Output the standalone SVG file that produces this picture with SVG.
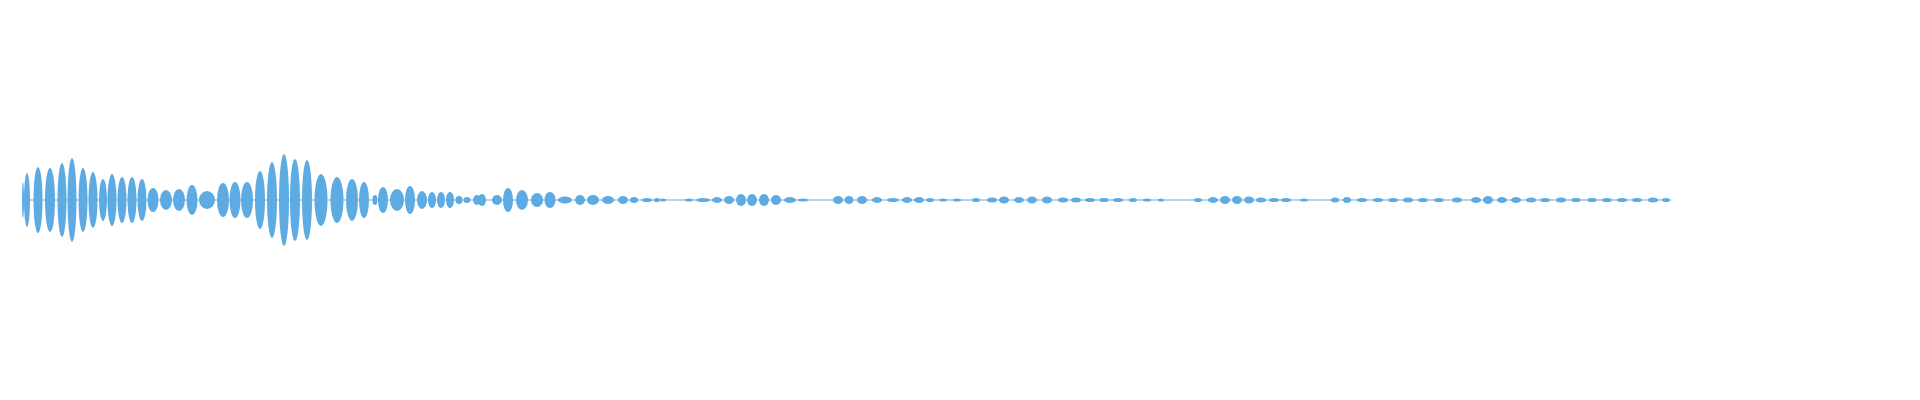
<svg xmlns="http://www.w3.org/2000/svg" width="1920" height="400" viewBox="0 0 1920 400">
<style>ellipse{fill:#5eabe3}line{stroke:#5eabe3}</style>
<rect width="1920" height="400" fill="#fff"/>
<g id="waveform">
<line x1="22" y1="200" x2="1671" y2="200" stroke-width="1"/>
<ellipse cx="23" cy="200" rx="1" ry="18"/>
<ellipse cx="27" cy="200" rx="3" ry="27"/>
<ellipse cx="38" cy="200" rx="4.5" ry="33"/>
<ellipse cx="50" cy="200" rx="5" ry="32"/>
<ellipse cx="62" cy="200" rx="4.5" ry="37"/>
<ellipse cx="72" cy="200" rx="4.5" ry="42"/>
<ellipse cx="83" cy="200" rx="4.5" ry="32"/>
<ellipse cx="93" cy="200" rx="4.5" ry="28"/>
<ellipse cx="103" cy="200" rx="4" ry="21"/>
<ellipse cx="112" cy="200" rx="4.5" ry="26"/>
<ellipse cx="122" cy="200" rx="4.5" ry="23"/>
<ellipse cx="132" cy="200" rx="4.5" ry="23"/>
<ellipse cx="142" cy="200" rx="4.5" ry="21"/>
<ellipse cx="153" cy="200" rx="5.5" ry="12"/>
<ellipse cx="166" cy="200" rx="6" ry="10"/>
<ellipse cx="179" cy="200" rx="6" ry="11"/>
<ellipse cx="192" cy="200" rx="5.5" ry="15"/>
<ellipse cx="207" cy="200" rx="8" ry="9"/>
<ellipse cx="223" cy="200" rx="6" ry="17"/>
<ellipse cx="235" cy="200" rx="5.5" ry="18"/>
<ellipse cx="247" cy="200" rx="6" ry="18"/>
<ellipse cx="260" cy="200" rx="5" ry="29"/>
<ellipse cx="272" cy="200" rx="5" ry="38"/>
<ellipse cx="284" cy="200" rx="5" ry="46"/>
<ellipse cx="295" cy="200" rx="5" ry="41"/>
<ellipse cx="307" cy="200" rx="5" ry="40"/>
<ellipse cx="321" cy="200" rx="6.5" ry="26"/>
<ellipse cx="337" cy="200" rx="6.5" ry="23"/>
<ellipse cx="352" cy="200" rx="6" ry="21"/>
<ellipse cx="364" cy="200" rx="5" ry="18"/>
<ellipse cx="375" cy="200" rx="2.5" ry="5"/>
<ellipse cx="383" cy="200" rx="5" ry="13"/>
<ellipse cx="397" cy="200" rx="7" ry="11"/>
<ellipse cx="410" cy="200" rx="5" ry="14"/>
<ellipse cx="422" cy="200" rx="5" ry="9"/>
<ellipse cx="432" cy="200" rx="4" ry="8"/>
<ellipse cx="441" cy="200" rx="4" ry="8"/>
<ellipse cx="450" cy="200" rx="4" ry="8"/>
<ellipse cx="459" cy="200" rx="3.5" ry="4"/>
<ellipse cx="467" cy="200" rx="3.5" ry="3"/>
<ellipse cx="477" cy="200" rx="4" ry="5"/>
<ellipse cx="482" cy="200" rx="4" ry="6"/>
<ellipse cx="497" cy="200" rx="5" ry="5"/>
<ellipse cx="508" cy="200" rx="5" ry="12"/>
<ellipse cx="522" cy="200" rx="6" ry="10"/>
<ellipse cx="537" cy="200" rx="6" ry="7"/>
<ellipse cx="550" cy="200" rx="5.5" ry="8"/>
<ellipse cx="565" cy="200" rx="7" ry="3.5"/>
<ellipse cx="580" cy="200" rx="5" ry="5"/>
<ellipse cx="593" cy="200" rx="6" ry="5"/>
<ellipse cx="608" cy="200" rx="6" ry="4"/>
<ellipse cx="623" cy="200" rx="5" ry="4"/>
<ellipse cx="634" cy="200" rx="4" ry="3"/>
<ellipse cx="647" cy="200" rx="5" ry="2"/>
<ellipse cx="657" cy="200" rx="3" ry="2"/>
<ellipse cx="663" cy="200" rx="3" ry="1.5"/>
<ellipse cx="689" cy="200" rx="4" ry="1.5"/>
<ellipse cx="703" cy="200" rx="7" ry="2"/>
<ellipse cx="717" cy="200" rx="5" ry="3"/>
<ellipse cx="729" cy="200" rx="5" ry="4"/>
<ellipse cx="741" cy="200" rx="5" ry="6"/>
<ellipse cx="752" cy="200" rx="5" ry="6"/>
<ellipse cx="764" cy="200" rx="5" ry="6"/>
<ellipse cx="776" cy="200" rx="5" ry="5"/>
<ellipse cx="790" cy="200" rx="6" ry="3"/>
<ellipse cx="803" cy="200" rx="5" ry="1.5"/>
<ellipse cx="838" cy="200" rx="5" ry="4"/>
<ellipse cx="849" cy="200" rx="4.5" ry="4"/>
<ellipse cx="862" cy="200" rx="5" ry="4"/>
<ellipse cx="877" cy="200" rx="5" ry="3"/>
<ellipse cx="893" cy="200" rx="6" ry="2"/>
<ellipse cx="907" cy="200" rx="5" ry="3"/>
<ellipse cx="919" cy="200" rx="5" ry="3"/>
<ellipse cx="930" cy="200" rx="4" ry="2"/>
<ellipse cx="943" cy="200" rx="4" ry="1.5"/>
<ellipse cx="957" cy="200" rx="4" ry="1.5"/>
<ellipse cx="976" cy="200" rx="4" ry="2"/>
<ellipse cx="992" cy="200" rx="5" ry="2.5"/>
<ellipse cx="1004" cy="200" rx="5" ry="3.5"/>
<ellipse cx="1019" cy="200" rx="5" ry="3"/>
<ellipse cx="1032" cy="200" rx="5" ry="3.5"/>
<ellipse cx="1047" cy="200" rx="5" ry="3.5"/>
<ellipse cx="1063" cy="200" rx="5" ry="2.5"/>
<ellipse cx="1076" cy="200" rx="5" ry="2.5"/>
<ellipse cx="1090" cy="200" rx="5" ry="2"/>
<ellipse cx="1104" cy="200" rx="5" ry="2"/>
<ellipse cx="1118" cy="200" rx="5" ry="2"/>
<ellipse cx="1133" cy="200" rx="4" ry="2"/>
<ellipse cx="1147" cy="200" rx="4" ry="1.5"/>
<ellipse cx="1161" cy="200" rx="3" ry="1.5"/>
<ellipse cx="1198" cy="200" rx="4" ry="2"/>
<ellipse cx="1213" cy="200" rx="5" ry="3"/>
<ellipse cx="1225" cy="200" rx="5" ry="4"/>
<ellipse cx="1237" cy="200" rx="5" ry="4"/>
<ellipse cx="1249" cy="200" rx="5" ry="3.5"/>
<ellipse cx="1261" cy="200" rx="5" ry="2.5"/>
<ellipse cx="1274" cy="200" rx="5" ry="2"/>
<ellipse cx="1286" cy="200" rx="5" ry="2"/>
<ellipse cx="1304" cy="200" rx="4" ry="1.5"/>
<ellipse cx="1335" cy="200" rx="4" ry="2.5"/>
<ellipse cx="1347" cy="200" rx="4" ry="3"/>
<ellipse cx="1362" cy="200" rx="5" ry="2"/>
<ellipse cx="1378" cy="200" rx="5" ry="2"/>
<ellipse cx="1393" cy="200" rx="5" ry="2"/>
<ellipse cx="1408" cy="200" rx="5" ry="2.5"/>
<ellipse cx="1423" cy="200" rx="5" ry="2"/>
<ellipse cx="1439" cy="200" rx="5" ry="2"/>
<ellipse cx="1457" cy="200" rx="5" ry="2.5"/>
<ellipse cx="1476" cy="200" rx="5" ry="3"/>
<ellipse cx="1488" cy="200" rx="5" ry="4"/>
<ellipse cx="1502" cy="200" rx="5" ry="3"/>
<ellipse cx="1516" cy="200" rx="5" ry="3"/>
<ellipse cx="1531" cy="200" rx="5" ry="2.5"/>
<ellipse cx="1545" cy="200" rx="5" ry="2"/>
<ellipse cx="1561" cy="200" rx="5" ry="2.5"/>
<ellipse cx="1576" cy="200" rx="5" ry="2"/>
<ellipse cx="1592" cy="200" rx="5" ry="2"/>
<ellipse cx="1607" cy="200" rx="5" ry="2"/>
<ellipse cx="1622" cy="200" rx="5" ry="2"/>
<ellipse cx="1637" cy="200" rx="5" ry="2"/>
<ellipse cx="1653" cy="200" rx="5" ry="2.5"/>
<ellipse cx="1666" cy="200" rx="4" ry="2"/>
</g>
</svg>
